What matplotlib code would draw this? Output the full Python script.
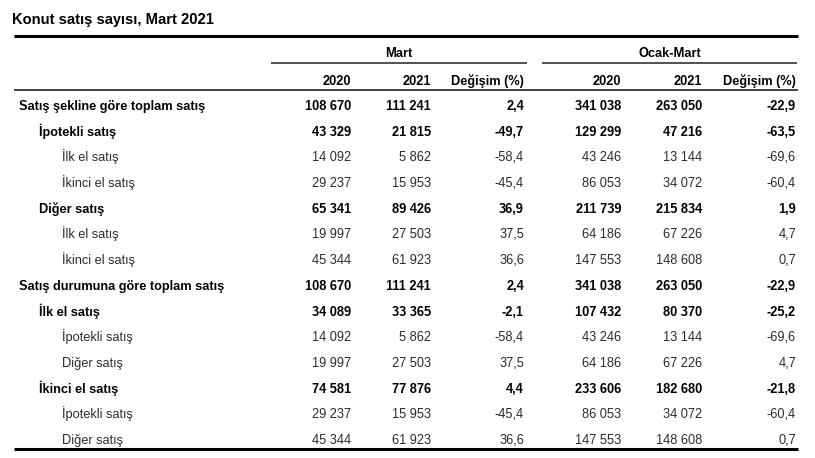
import matplotlib.pyplot as plt
from matplotlib import font_manager

title = 'Konut satış sayısı, Mart 2021'
groups = ['Mart', 'Ocak-Mart']
col_heads = ['2020', '2021', 'Değişim (%)', '2020', '2021', 'Değişim (%)']

labels = ['Satış şekline göre toplam satış', 'İpotekli satış', 'İlk el satış',
          'İkinci el satış', 'Diğer satış', 'İlk el satış', 'İkinci el satış',
          'Satış durumuna göre toplam satış', 'İlk el satış', 'İpotekli satış',
          'Diğer satış', 'İkinci el satış', 'İpotekli satış', 'Diğer satış']
levels = [0, 1, 2, 2, 1, 2, 2, 0, 1, 2, 2, 1, 2, 2]

mart_2020 = ['108 670', '43 329', '14 092', '29 237', '65 341', '19 997', '45 344',
             '108 670', '34 089', '14 092', '19 997', '74 581', '29 237', '45 344']
mart_2021 = ['111 241', '21 815', '5 862', '15 953', '89 426', '27 503', '61 923',
             '111 241', '33 365', '5 862', '27 503', '77 876', '15 953', '61 923']
mart_chg = ['2,4', '-49,7', '-58,4', '-45,4', '36,9', '37,5', '36,6',
            '2,4', '-2,1', '-58,4', '37,5', '4,4', '-45,4', '36,6']
om_2020 = ['341 038', '129 299', '43 246', '86 053', '211 739', '64 186', '147 553',
           '341 038', '107 432', '43 246', '64 186', '233 606', '86 053', '147 553']
om_2021 = ['263 050', '47 216', '13 144', '34 072', '215 834', '67 226', '148 608',
           '263 050', '80 370', '13 144', '67 226', '182 680', '34 072', '148 608']
om_chg = ['-22,9', '-63,5', '-69,6', '-60,4', '1,9', '4,7', '0,7',
          '-22,9', '-25,2', '-69,6', '4,7', '-21,8', '-60,4', '0,7']

columns = [mart_2020, mart_2021, mart_chg, om_2020, om_2021, om_chg]

# pick a narrow face if it is there (single family, it has the Turkish letters)
names = {f.name for f in font_manager.fontManager.ttflist}
fam = 'Liberation Sans Narrow' if 'Liberation Sans Narrow' in names else 'Liberation Sans'
plt.rcParams['font.family'] = fam
plt.rcParams['text.hinting'] = 'native'

fig = plt.figure(figsize=(8.15, 4.58), dpi=100)
ax = fig.add_axes([0, 0, 1, 1])
ax.set_xlim(0, 815)
ax.set_ylim(458, 0)
ax.axis('off')

fs = 9.2
col_right = [351, 431, 524, 621, 702, 796]
indent = [19, 39, 62]
row_y0, row_dy = 110, 25.7

ax.text(12, 24, title, fontsize=10.6, fontweight='bold', va='baseline', ha='left',
        color='black', family='Liberation Sans')

ax.plot([14, 798], [36, 36], color='black', lw=2.2, solid_capstyle='butt')
ax.plot([271, 527], [62.7, 62.7], color='#222222', lw=1.1, solid_capstyle='butt')
ax.plot([542, 797], [62.7, 62.7], color='#222222', lw=1.1, solid_capstyle='butt')
ax.plot([14, 798], [89.5, 89.5], color='#222222', lw=1.2, solid_capstyle='butt')
ax.plot([14, 798], [449, 449], color='black', lw=2.2, solid_capstyle='butt')

ax.text(399, 57, groups[0], fontsize=fs, fontweight='bold', ha='center', va='baseline')
ax.text(670, 57, groups[1], fontsize=fs, fontweight='bold', ha='center', va='baseline')
for x, h in zip(col_right, col_heads):
    ax.text(x, 85, h, fontsize=fs, fontweight='bold', ha='right', va='baseline')

for i, lab in enumerate(labels):
    y = round(row_y0 + i * row_dy)
    bold = levels[i] < 2
    w = 'bold' if bold else 'normal'
    c = 'black' if bold else '#2a2a2a'
    ax.text(indent[levels[i]], y, lab, fontsize=fs, fontweight=w, color=c,
            ha='left', va='baseline')
    for x, col in zip(col_right, columns):
        ax.text(x, y, col[i], fontsize=fs, fontweight=w, color=c,
                ha='right', va='baseline')

fig.savefig('out.png', dpi=100, facecolor='white')
